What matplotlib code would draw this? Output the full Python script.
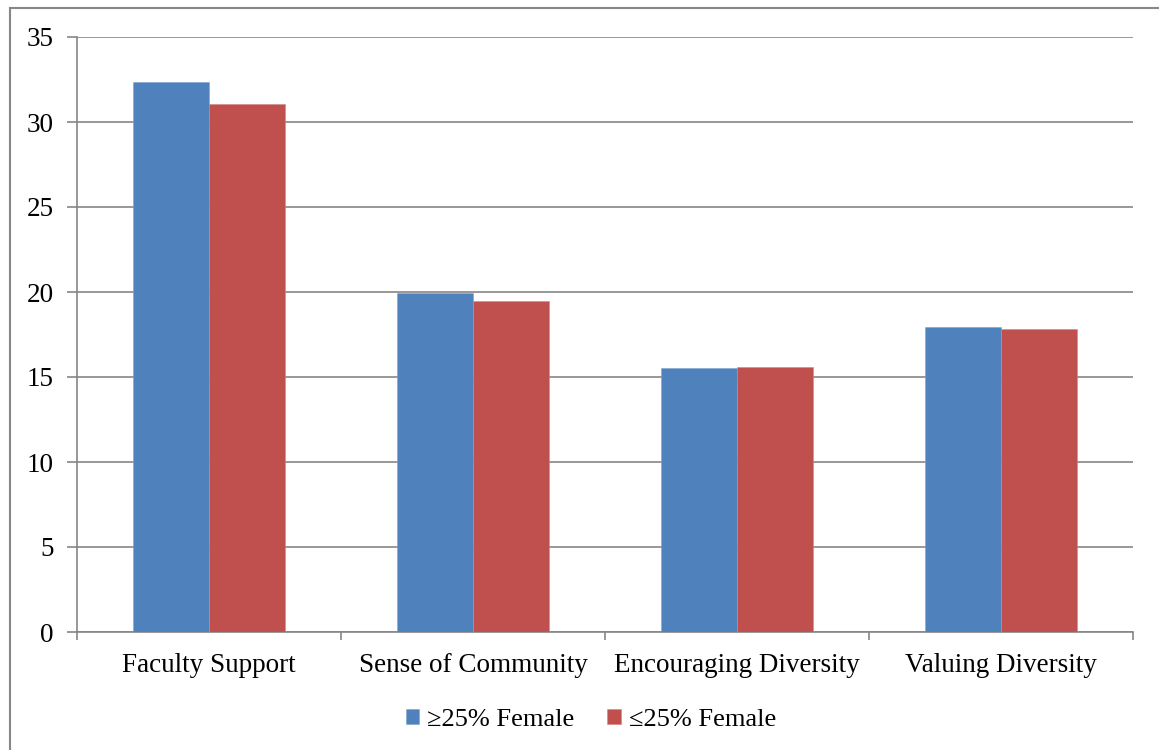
import matplotlib
matplotlib.use('Agg')
import matplotlib.pyplot as plt
from matplotlib.patches import Rectangle
import numpy as np

plt.rcParams['font.family'] = ['Liberation Serif', 'DejaVu Serif']

categories = ['Faculty Support', 'Sense of Community', 'Encouraging Diversity', 'Valuing Diversity']
high_female = [32.35, 19.94, 15.53, 17.94]
low_female = [31.06, 19.47, 15.59, 17.82]
series_names = ['\u226525% Female', '\u226425% Female']

W, H = 1159, 750
fig = plt.figure(figsize=(W / 100, H / 100), dpi=100)
ax = fig.add_axes([77 / W, (H - 632) / H, 1056 / W, 595 / H])

# outer chart border (clipped at right/bottom like the source)
fig.patches.append(Rectangle((10 / W, -0.1), 1.2, (H - 8) / H + 0.1,
                             transform=fig.transFigure, fill=False,
                             edgecolor='#878787', linewidth=1.5))

x = np.arange(len(categories))
bw = 76 / 264
ax.bar(x - bw / 2, high_female, bw, color='#4F81BD', edgecolor='#7FA3D0', linewidth=0.4,
       label=series_names[0], zorder=3)
ax.bar(x + bw / 2, low_female, bw, color='#C0504D', edgecolor='#D48583', linewidth=0.4,
       label=series_names[1], zorder=3)

ax.set_xlim(-0.5, len(categories) - 0.5)
ax.set_ylim(0, 35)
ax.set_yticks(np.arange(0, 36, 5))
ax.yaxis.grid(True, color='#868686', linewidth=1.2)
ax.set_axisbelow(True)

ax.set_xticks(np.arange(-0.5, len(categories), 1))
ax.set_xticklabels([])
ax.set_xticks(x, minor=True)
ax.set_xticklabels(categories, minor=True, va='baseline')
ax.tick_params(axis='x', which='major', length=6, color='#868686', width=1.2)
ax.tick_params(axis='x', which='minor', length=0, labelsize=19.5, pad=28.5)
ax.tick_params(axis='y', length=7, color='#868686', width=1.2, labelsize=19.5, pad=10)

for side in ['top', 'right']:
    ax.spines[side].set_visible(False)
for side in ['left', 'bottom']:
    ax.spines[side].set_color('#868686')
    ax.spines[side].set_linewidth(1.2)

ax.legend(loc='center', bbox_to_anchor=(591 / W, 1 - 720 / H), bbox_transform=fig.transFigure,
          ncol=2, frameon=False, fontsize=19, handlelength=0.5, handleheight=0.5,
          handletextpad=0.3, columnspacing=1.25)

fig.savefig('out.png', dpi=100)
